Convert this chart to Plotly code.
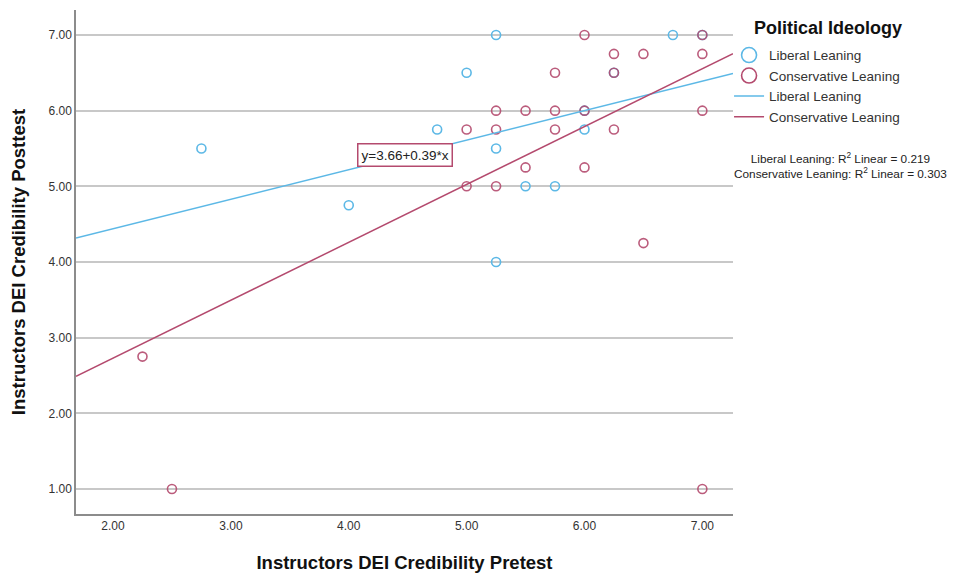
import plotly.graph_objects as go

# Liberal Leaning data
lib_pre = [2.75, 4.0, 4.75, 5.0, 5.25, 5.25, 5.25, 5.5, 5.75, 6.0, 6.0, 6.25, 6.75, 7.0]
lib_post = [5.5, 4.75, 5.75, 6.5, 7.0, 5.5, 4.0, 5.0, 5.0, 5.75, 6.0, 6.5, 7.0, 7.0]

# Conservative Leaning data
con_pre = [2.25, 2.5, 5.0, 5.0, 5.25, 5.25, 5.25, 5.5, 5.5, 5.75, 5.75, 5.75,
           6.0, 6.0, 6.0, 6.25, 6.25, 6.25, 6.5, 6.5, 7.0, 7.0, 7.0, 7.0]
con_post = [2.75, 1.0, 5.75, 5.0, 6.0, 5.75, 5.0, 6.0, 5.25, 6.5, 6.0, 5.75,
            7.0, 6.0, 5.25, 6.75, 6.5, 5.75, 6.75, 4.25, 7.0, 6.75, 6.0, 1.0]

# Fit coefficients (intercept, slope)
lib_fit = (3.66, 0.39)
con_fit = (1.20, 0.765)
r2_lib = 0.219
r2_con = 0.303

x_range = [1.686, 7.26]
y_range = [0.67, 7.33]
x_ticks = [2, 3, 4, 5, 6, 7]
y_ticks = [1, 2, 3, 4, 5, 6, 7]

BLUE = "#5CB8E6"
RED = "#B44A6E"
FONT = "Liberation Sans, Arial"

fig = go.Figure()

mk = dict(symbol="circle-open", size=9, line=dict(width=1.6))

fig.add_trace(go.Scatter(x=lib_pre, y=lib_post, mode="markers", showlegend=False,
                         marker=dict(color=BLUE, **mk)))
fig.add_trace(go.Scatter(x=con_pre, y=con_post, mode="markers", showlegend=False,
                         marker=dict(color=RED, opacity=0.9, **mk)))

# Legend marker entries (larger circles)
fig.add_trace(go.Scatter(x=[None], y=[None], mode="markers", name="Liberal Leaning",
                         marker=dict(color=BLUE, symbol="circle-open", size=15, line=dict(width=1.6))))
fig.add_trace(go.Scatter(x=[None], y=[None], mode="markers", name="Conservative Leaning",
                         marker=dict(color=RED, symbol="circle-open", size=15, line=dict(width=1.6))))

# Fit lines
fig.add_trace(go.Scatter(x=x_range, y=[lib_fit[0] + lib_fit[1] * v for v in x_range],
                         mode="lines", name="Liberal Leaning",
                         line=dict(color=BLUE, width=1.5)))
fig.add_trace(go.Scatter(x=x_range, y=[con_fit[0] + con_fit[1] * v for v in x_range],
                         mode="lines", name="Conservative Leaning",
                         line=dict(color=RED, width=1.5)))

fig.add_annotation(x=4.48, y=5.42, xref="x", yref="y",
                   text=f"y={lib_fit[0]:.2f}+{lib_fit[1]:.2f}*x", showarrow=False,
                   font=dict(family=FONT, size=13.5, color="#222"),
                   bgcolor="white", bordercolor=RED, borderwidth=1.5, borderpad=3)

fig.add_annotation(x=1.164, y=0.69, xref="paper", yref="paper", xanchor="center",
                   yanchor="middle",
                   text=(f"Liberal Leaning: R<sup>2</sup> Linear = {r2_lib:.3f}<br>"
                         f"Conservative Leaning: R<sup>2</sup> Linear = {r2_con:.3f}"),
                   showarrow=False, align="center",
                   font=dict(family=FONT, size=11.8, color="#222"))

# Legend title
fig.add_annotation(x=1.029, y=0.964, xref="paper", yref="paper", xanchor="left",
                   yanchor="middle", text="<b>Political Ideology</b>", showarrow=False,
                   font=dict(family=FONT, size=18, color="#111"))

fig.update_layout(
    width=958, height=565,
    margin=dict(l=68, r=233, t=2, b=59, autoexpand=False),
    paper_bgcolor="white", plot_bgcolor="white",
    font=dict(family=FONT, color="#222"),
    legend=dict(x=0.994, y=0.941, xanchor="left", yanchor="top",
                font=dict(size=13.5, color="#333"), tracegroupgap=0,
                itemwidth=30, bgcolor="rgba(0,0,0,0)"),
    xaxis=dict(range=x_range, tickvals=x_ticks, ticktext=[f"{v:.2f}" for v in x_ticks],
               showgrid=False, zeroline=False, showline=True, linecolor="#8c8c8c",
               linewidth=1.5, ticks="", tickfont=dict(size=12, color="#333"),
               automargin=False,
               title=dict(text="<b>Instructors DEI Credibility Pretest</b>",
                          font=dict(size=18.5, color="#111"), standoff=24)),
    yaxis=dict(range=y_range, tickvals=y_ticks, ticktext=[f"{v:.2f}" for v in y_ticks],
               showgrid=True, gridcolor="#c8c8c8", gridwidth=1.5, zeroline=False,
               showline=True, linecolor="#8c8c8c", linewidth=1.5, ticks="",
               tickfont=dict(size=12, color="#333"), automargin=False,
               title=dict(text="<b>Instructors DEI Credibility Posttest</b>",
                          font=dict(size=18.5, color="#111"), standoff=18)),
)

fig.write_html("out.html")
